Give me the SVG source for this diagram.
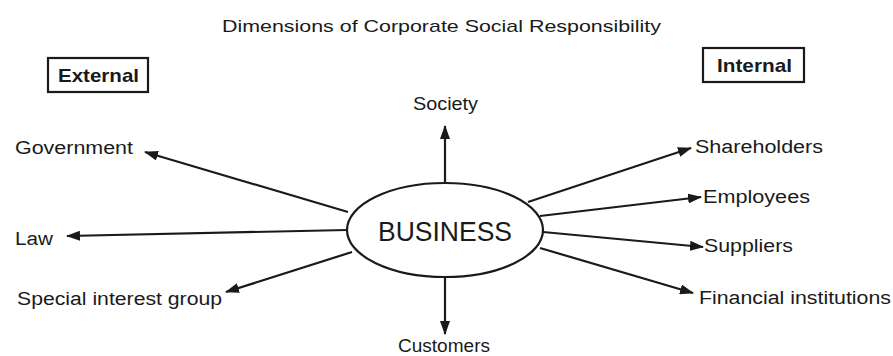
<svg xmlns="http://www.w3.org/2000/svg" width="893" height="356" viewBox="0 0 893 356">
<style>
text{font-family:"Liberation Sans",Arial,sans-serif;fill:#1a1a1a}
.lbl{font-size:18px}
.hdr{font-size:19px;font-weight:bold}
.ttl{font-size:17px}
.con line{stroke:#1a1a1a;stroke-width:2.2;marker-end:url(#ah)}
.box{fill:none;stroke:#1a1a1a;stroke-width:2.2}
</style>
<defs>
<marker id="ah" viewBox="0 0 14 10" refX="13" refY="5" markerWidth="14" markerHeight="10" markerUnits="userSpaceOnUse" orient="auto">
<path d="M0,0 L14,5 L0,10 Z" fill="#1a1a1a"/>
</marker>
</defs>
<rect width="893" height="356" fill="#fff"/>
<text class="ttl" x="222" y="32" textLength="439" lengthAdjust="spacingAndGlyphs">Dimensions of Corporate Social Responsibility</text>
<g id="external">
<rect class="box" x="48" y="58" width="100" height="34"/>
<text class="hdr" x="58" y="82" textLength="81" lengthAdjust="spacingAndGlyphs">External</text>
</g>
<g id="internal">
<rect class="box" x="703" y="48" width="101" height="34"/>
<text class="hdr" x="717" y="72" textLength="75" lengthAdjust="spacingAndGlyphs">Internal</text>
</g>
<g class="con" id="connectors">
<line x1="445" y1="183" x2="445" y2="126"/>
<line x1="445" y1="277" x2="445" y2="334"/>
<line x1="348" y1="212" x2="145" y2="152"/>
<line x1="347" y1="230" x2="67" y2="236"/>
<line x1="352" y1="252" x2="226" y2="292"/>
<line x1="528" y1="202" x2="691" y2="148"/>
<line x1="540" y1="216" x2="701" y2="197"/>
<line x1="543" y1="232" x2="703" y2="247"/>
<line x1="540" y1="248" x2="693" y2="293"/>
</g>
<g id="business">
<ellipse cx="445" cy="230" rx="98" ry="47" fill="#fff" stroke="#1a1a1a" stroke-width="2.2"/>
<text x="378" y="241" font-size="27" textLength="134" lengthAdjust="spacingAndGlyphs">BUSINESS</text>
</g>
<g id="society"><text class="lbl" x="413" y="110" textLength="65" lengthAdjust="spacingAndGlyphs">Society</text></g>
<g id="customers"><text class="lbl" x="398" y="352" textLength="92" lengthAdjust="spacingAndGlyphs">Customers</text></g>
<g id="government"><text class="lbl" x="15" y="154" textLength="118" lengthAdjust="spacingAndGlyphs">Government</text></g>
<g id="law"><text class="lbl" x="15" y="245" textLength="38" lengthAdjust="spacingAndGlyphs">Law</text></g>
<g id="special"><text class="lbl" x="17" y="305" textLength="205" lengthAdjust="spacingAndGlyphs">Special interest group</text></g>
<g id="shareholders"><text class="lbl" x="695" y="153" textLength="128" lengthAdjust="spacingAndGlyphs">Shareholders</text></g>
<g id="employees"><text class="lbl" x="703" y="203" textLength="107" lengthAdjust="spacingAndGlyphs">Employees</text></g>
<g id="suppliers"><text class="lbl" x="704" y="252" textLength="89" lengthAdjust="spacingAndGlyphs">Suppliers</text></g>
<g id="financial"><text class="lbl" x="699" y="304" textLength="192" lengthAdjust="spacingAndGlyphs">Financial institutions</text></g>
</svg>
